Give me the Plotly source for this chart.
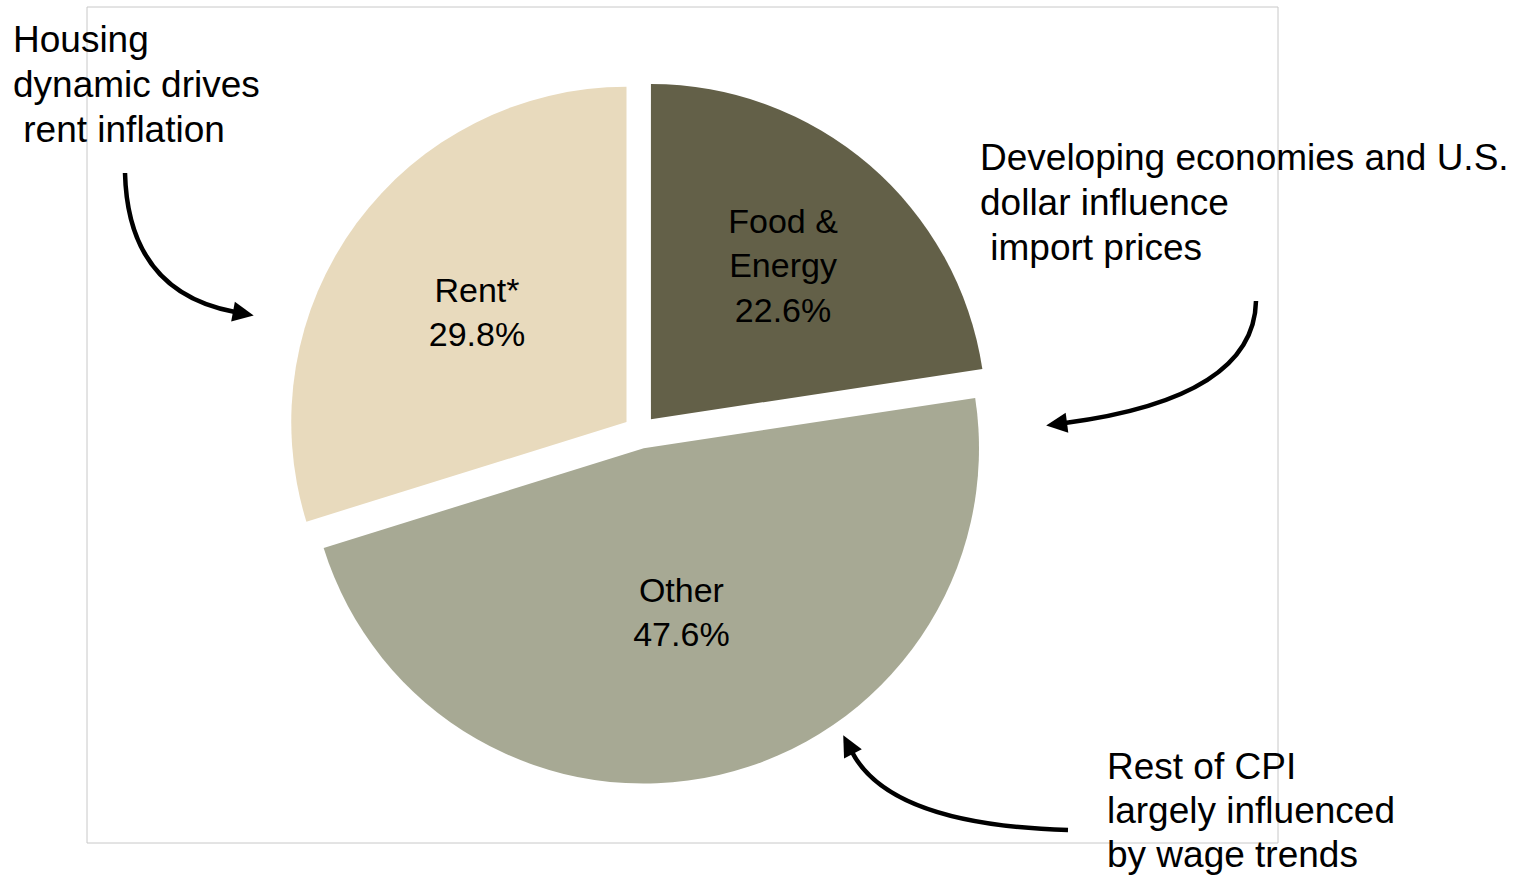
import math
import plotly.graph_objects as go

# Share of the CPI basket by component
categories = ["Food &<br>Energy", "Other", "Rent*"]
shares = [22.6, 47.6, 29.8]
slice_colors = ["#636048", "#A7A994", "#E8DABD"]

# Callout notes, one list of lines per note
notes = [
    ["Housing", "dynamic drives", "\u00a0rent inflation"],
    ["Developing economies and U.S.", "dollar influence", "\u00a0import prices"],
    ["Rest of CPI", "largely influenced", "by wage trends"],
]

W, H = 1526, 875
FONT = "Arial, Liberation Sans, sans-serif"


def fx(x):
    return x / W


def fy(y):
    return 1 - y / H


fig = go.Figure()

fig.add_trace(go.Pie(
    labels=[c.replace("<br>", " ") for c in categories],
    values=shares,
    text=[f"{c}<br>{v:.1f}%" for c, v in zip(categories, shares)],
    textinfo="text",
    textposition="inside",
    insidetextorientation="horizontal",
    textfont=dict(family=FONT, size=34, color="#000000"),
    marker=dict(colors=slice_colors, line=dict(color="white", width=0)),
    sort=False,
    direction="clockwise",
    rotation=0,
    pull=[0.05, 0.05, 0.05],
    domain=dict(x=[fx(288), fx(992)], y=[fy(784), fy(80)]),
    hoverinfo="label+percent",
    showlegend=False,
))

shapes = [
    dict(type="rect", xref="paper", yref="paper",
         x0=fx(87), x1=fx(1278), y0=fy(843), y1=fy(7),
         line=dict(color="#C8C8C8", width=1), fillcolor="rgba(0,0,0,0)",
         layer="below"),
]


def curved_arrow(p0, ctrl, p1, head_len=19, head_half=10, width=4.5):
    """Quadratic curve from p0 to p1 with a filled arrowhead beyond p1."""
    path = (f"M {fx(p0[0])},{fy(p0[1])} "
            f"Q {fx(ctrl[0])},{fy(ctrl[1])} {fx(p1[0])},{fy(p1[1])}")
    out = [dict(type="path", xref="paper", yref="paper", path=path,
                line=dict(color="black", width=width),
                fillcolor="rgba(0,0,0,0)")]
    dx, dy = p1[0] - ctrl[0], p1[1] - ctrl[1]
    n = math.hypot(dx, dy)
    ux, uy = dx / n, dy / n
    px_, py_ = -uy, ux
    tip = (p1[0] + head_len * ux, p1[1] + head_len * uy)
    b1 = (p1[0] - 2 * ux + head_half * px_, p1[1] - 2 * uy + head_half * py_)
    b2 = (p1[0] - 2 * ux - head_half * px_, p1[1] - 2 * uy - head_half * py_)
    head = (f"M {fx(tip[0])},{fy(tip[1])} L {fx(b1[0])},{fy(b1[1])} "
            f"L {fx(b2[0])},{fy(b2[1])} Z")
    out.append(dict(type="path", xref="paper", yref="paper", path=head,
                    line=dict(color="black", width=0), fillcolor="black"))
    return out


shapes += curved_arrow((125, 173), (128, 292), (235, 312))
shapes += curved_arrow((1256, 301), (1254, 398), (1065, 423))
shapes += curved_arrow((1068, 830), (890, 825), (852, 752))

annotations = []
anchors = [(11, 17, 45), (978, 135, 45), (1105, 744, 44)]
for lines, (x, y0, step) in zip(notes, anchors):
    for i, line in enumerate(lines):
        annotations.append(dict(
            text=line, xref="paper", yref="paper",
            x=fx(x), y=fy(y0 + i * step),
            xanchor="left", yanchor="top", align="left", showarrow=False,
            font=dict(family=FONT, size=37, color="#000000"),
        ))

fig.update_layout(
    width=W, height=H,
    margin=dict(l=0, r=0, t=0, b=0),
    paper_bgcolor="white",
    plot_bgcolor="white",
    shapes=shapes,
    annotations=annotations,
    uniformtext=dict(minsize=34, mode="show"),
    showlegend=False,
)

fig.write_html("out.html")
